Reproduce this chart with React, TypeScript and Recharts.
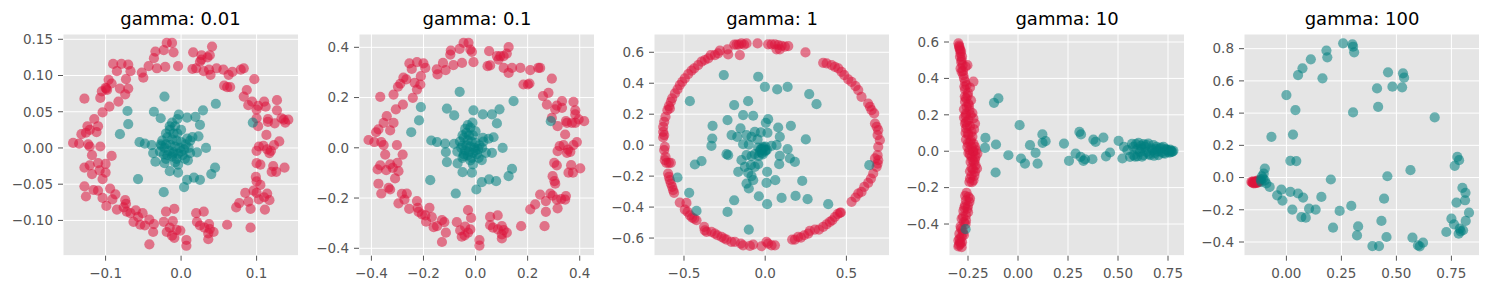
import React from 'react';
import { ScatterChart, Scatter, XAxis, YAxis, CartesianGrid } from 'recharts';

type P = [number, number];

const titles = ['gamma: 0.01', 'gamma: 0.1', 'gamma: 1', 'gamma: 10', 'gamma: 100'];

// ---------- gamma 0.01 ----------
const g001XTicks = [-0.1, 0, 0.1];
const g001XLabels = ['−0.1', '0.0', '0.1'];
const g001YTicks = [-0.1, -0.05, 0, 0.05, 0.1, 0.15];
const g001YLabels = ['−0.10', '−0.05', '0.00', '0.05', '0.10', '0.15'];
const g001Red: P[] = [
  [-0.019, 0.145], [-0.012, 0.145], [-0.023, 0.135], [-0.010, 0.132], [-0.034, 0.133], [-0.036, 0.124],
  [-0.043, 0.113], [-0.032, 0.110], [-0.021, 0.112], [-0.004, 0.113], [-0.052, 0.104], [-0.050, 0.097],
  [-0.067, 0.106], [-0.070, 0.115], [-0.079, 0.116], [-0.085, 0.106], [-0.090, 0.116], [-0.073, 0.095],
  [-0.096, 0.094], [-0.100, 0.083], [-0.098, 0.080], [-0.105, 0.078], [-0.107, 0.069], [-0.092, 0.089],
  [-0.081, 0.082], [-0.070, 0.082], [-0.074, 0.074], [-0.083, 0.064], [-0.095, 0.057], [-0.104, 0.049],
  [-0.128, 0.068], [-0.115, 0.040], [-0.124, 0.030], [-0.110, 0.030], [-0.112, 0.022], [-0.121, 0.025],
  [-0.132, 0.019], [-0.126, 0.021], [-0.143, 0.007], [-0.135, 0.006], [-0.123, 0.005], [-0.121, 0.002],
  [-0.118, -0.010], [-0.107, 0.002], [-0.092, -0.011], [-0.100, -0.022], [-0.110, -0.021], [-0.121, -0.024],
  [-0.128, -0.027], [-0.118, -0.036], [-0.108, -0.031], [-0.100, -0.034], [-0.104, -0.043], [-0.128, -0.053],
  [-0.116, -0.058], [-0.110, -0.059], [-0.126, -0.067], [-0.104, -0.069], [-0.094, -0.056], [-0.087, -0.064],
  [-0.091, -0.071], [-0.099, -0.080], [-0.085, -0.085], [-0.074, -0.072], [-0.073, -0.077], [-0.076, -0.082],
  [-0.072, -0.088], [-0.067, -0.090], [-0.060, -0.086], [-0.057, -0.095], [-0.051, -0.090], [-0.063, -0.102],
  [-0.054, -0.106], [-0.048, -0.107], [-0.042, -0.099], [-0.036, -0.105], [-0.037, -0.116], [-0.042, -0.133],
  [-0.023, -0.102], [-0.020, -0.088], [-0.009, -0.084], [-0.011, -0.101], [-0.015, -0.110], [-0.019, -0.116],
  [-0.012, -0.121], [-0.009, -0.124], [-0.006, -0.113], [-0.001, -0.114], [0.007, -0.127], [0.007, -0.135],
  [0.020, -0.090], [0.030, -0.088], [0.021, -0.102], [0.025, -0.107], [0.031, -0.110], [0.037, -0.105],
  [0.043, -0.116], [0.036, -0.118], [0.036, -0.126], [0.038, -0.112], [0.061, -0.106], [0.073, -0.082],
  [0.077, -0.076], [0.085, -0.062], [0.089, -0.074], [0.092, -0.084], [0.092, -0.110], [0.096, -0.059],
  [0.100, -0.062], [0.103, -0.071], [0.110, -0.068], [0.114, -0.063], [0.117, -0.072], [0.111, -0.085],
  [0.105, -0.051], [0.099, -0.040], [0.100, -0.046], [0.100, -0.021], [0.105, -0.023], [0.100, -0.004],
  [0.103, 0.002], [0.109, 0.003], [0.114, -0.002], [0.119, -0.004], [0.123, 0.004], [0.130, 0.009],
  [0.122, -0.025], [0.120, -0.033], [0.126, -0.033], [0.137, -0.027], [0.117, -0.007], [0.113, 0.018],
  [0.102, 0.030], [0.100, 0.041], [0.115, 0.040], [0.115, 0.036], [0.127, 0.052], [0.127, 0.066],
  [0.133, 0.041], [0.136, 0.039], [0.142, 0.039], [0.138, 0.035], [0.124, 0.034], [0.110, 0.064],
  [0.112, 0.057], [0.102, 0.058], [0.100, 0.053], [0.094, 0.064], [0.089, 0.059], [0.083, 0.071],
  [0.087, 0.080], [0.097, 0.095], [0.083, 0.110], [0.079, 0.108], [0.068, 0.105], [0.063, 0.101],
  [0.056, 0.108], [0.047, 0.110], [0.039, 0.101], [0.037, 0.108], [0.030, 0.106], [0.025, 0.119],
  [0.027, 0.122], [0.035, 0.125], [0.038, 0.128], [0.041, 0.140], [0.027, 0.128], [0.016, 0.132],
  [0.015, 0.109], [0.020, 0.110], [0.061, 0.084], [0.065, 0.084], [0.057, 0.086], [-0.099, 0.082],
];
const g001Teal: P[] = [
  [-0.022, 0.071], [0.046, 0.061], [-0.036, 0.050], [-0.071, 0.051], [-0.070, 0.033], [-0.081, 0.019],
  [-0.027, 0.041], [-0.003, 0.046], [0.008, 0.042], [0.019, 0.043], [0.029, 0.052], [0.025, 0.032],
  [0.095, 0.035], [-0.055, 0.008], [-0.048, 0.006], [-0.039, 0.004], [-0.027, 0.005], [-0.026, 0.003],
  [-0.037, -0.007], [-0.034, -0.019], [-0.022, -0.021], [-0.015, -0.032], [-0.004, -0.034], [-0.004, -0.023],
  [-0.057, -0.043], [-0.023, -0.061], [0.004, -0.054], [0.008, -0.044], [0.017, -0.041], [0.025, -0.044],
  [0.040, -0.036], [0.045, -0.027], [0.033, 0.000], [0.023, 0.016], [0.015, 0.015], [0.008, 0.013],
  [0.012, -0.007], [0.021, -0.006], [0.009, -0.017], [-0.023, -0.009], [-0.011, -0.008],
  [-0.012, 0.035], [-0.008, 0.030], [-0.015, 0.025], [-0.010, 0.020], [-0.005, 0.020], [-0.018, 0.015],
  [-0.012, 0.012], [-0.006, 0.010], [0.000, 0.008], [-0.020, 0.005], [-0.014, 0.004], [-0.008, 0.002],
  [-0.002, 0.000], [0.004, -0.002], [-0.016, -0.004], [-0.010, -0.006], [-0.004, -0.008], [0.002, -0.010],
  [-0.012, -0.012], [-0.006, -0.015], [0.000, -0.005], [-0.018, -0.010], [0.006, 0.005], [-0.020, 0.020],
  [-0.022, 0.000], [-0.015, 0.030], [-0.005, 0.040], [0.000, 0.025], [-0.025, 0.010], [0.010, 0.000],
  [-0.008, -0.020], [0.005, -0.015], [-0.020, -0.015], [0.012, 0.010], [-0.028, -0.005],
];

// ---------- gamma 0.1 ----------
const g01XTicks = [-0.4, -0.2, 0, 0.2, 0.4];
const g01XLabels = ['−0.4', '−0.2', '0.0', '0.2', '0.4'];
const g01YTicks = [-0.4, -0.2, 0, 0.2, 0.4];
const g01YLabels = ['−0.4', '−0.2', '0.0', '0.2', '0.4'];
const g01Red: P[] = [
  [-0.046, 0.418], [-0.027, 0.418], [-0.061, 0.394], [-0.020, 0.391], [-0.014, 0.382], [-0.095, 0.387],
  [-0.097, 0.371], [-0.125, 0.338], [-0.085, 0.329], [-0.052, 0.338], [-0.008, 0.341], [-0.149, 0.312],
  [-0.146, 0.292], [-0.115, 0.309], [-0.193, 0.318], [-0.200, 0.336], [-0.225, 0.341], [-0.245, 0.314],
  [-0.254, 0.336], [-0.210, 0.285], [-0.277, 0.279], [-0.289, 0.255], [-0.298, 0.243], [-0.315, 0.212],
  [-0.266, 0.272], [-0.234, 0.259], [-0.225, 0.232], [-0.212, 0.252], [-0.241, 0.199], [-0.279, 0.172],
  [-0.306, 0.153], [-0.366, 0.203], [-0.341, 0.126], [-0.353, 0.099], [-0.315, 0.099], [-0.328, 0.069],
  [-0.373, 0.073], [-0.382, 0.062], [-0.411, 0.031], [-0.389, 0.023], [-0.362, 0.023], [-0.353, 0.011],
  [-0.347, -0.027], [-0.302, 0.011], [-0.280, -0.027], [-0.300, -0.060], [-0.328, -0.066], [-0.366, -0.070],
  [-0.376, -0.086], [-0.343, -0.089], [-0.318, -0.080], [-0.296, -0.093], [-0.309, -0.122], [-0.373, -0.143],
  [-0.362, -0.182], [-0.334, -0.159], [-0.328, -0.166], [-0.283, -0.183], [-0.264, -0.182], [-0.296, -0.221],
  [-0.273, -0.206], [-0.255, -0.243], [-0.225, -0.212], [-0.222, -0.239], [-0.219, -0.255], [-0.206, -0.265],
  [-0.193, -0.269], [-0.177, -0.239], [-0.168, -0.276], [-0.190, -0.294], [-0.161, -0.316], [-0.148, -0.312],
  [-0.129, -0.288], [-0.120, -0.296], [-0.114, -0.338], [-0.129, -0.375], [-0.072, -0.296], [-0.029, -0.248],
  [-0.017, -0.279], [-0.059, -0.329], [-0.053, -0.354], [-0.042, -0.349], [-0.029, -0.338], [-0.020, -0.325],
  [-0.040, -0.314], [0.015, -0.367], [0.015, -0.389], [0.056, -0.275], [0.085, -0.269], [0.056, -0.308],
  [0.067, -0.318], [0.086, -0.325], [0.101, -0.312], [0.120, -0.338], [0.101, -0.345], [0.101, -0.361],
  [0.108, -0.328], [0.175, -0.312], [0.210, -0.245], [0.229, -0.225], [0.248, -0.186], [0.270, -0.212],
  [0.270, -0.255], [0.265, -0.312], [0.287, -0.182], [0.296, -0.190], [0.312, -0.206], [0.329, -0.204],
  [0.344, -0.206], [0.347, -0.192], [0.315, -0.241], [0.306, -0.143], [0.296, -0.113], [0.303, -0.133],
  [0.302, -0.060], [0.312, -0.070], [0.315, -0.013], [0.323, 0.007], [0.338, 0.011], [0.355, -0.007],
  [0.364, -0.016], [0.376, 0.011], [0.389, 0.023], [0.367, -0.069], [0.357, -0.099], [0.374, -0.099],
  [0.402, -0.082], [0.351, -0.020], [0.344, 0.053], [0.315, 0.086], [0.293, 0.119], [0.347, 0.106],
  [0.351, 0.099], [0.383, 0.149], [0.376, 0.183], [0.383, 0.133], [0.396, 0.113], [0.417, 0.106],
  [0.383, 0.099], [0.370, 0.099], [0.332, 0.186], [0.332, 0.159], [0.312, 0.168], [0.306, 0.153],
  [0.274, 0.172], [0.259, 0.206], [0.280, 0.219], [0.293, 0.275], [0.248, 0.318], [0.241, 0.318],
  [0.210, 0.309], [0.201, 0.252], [0.184, 0.252], [0.207, 0.256], [0.172, 0.318], [0.140, 0.318],
  [0.127, 0.298], [0.108, 0.318], [0.088, 0.351], [0.095, 0.365], [0.108, 0.365], [0.120, 0.375],
  [0.127, 0.401], [0.082, 0.365], [0.052, 0.385], [0.046, 0.325], [0.056, 0.328],
];
const g01Teal: P[] = [
  [-0.061, 0.223], [0.146, 0.186], [-0.110, 0.156], [-0.210, 0.162], [-0.217, 0.109], [-0.247, 0.062],
  [-0.082, 0.129], [-0.008, 0.149], [0.028, 0.133], [0.063, 0.133], [0.092, 0.153], [0.082, 0.097],
  [0.289, 0.106], [-0.170, 0.029], [-0.148, 0.023], [-0.117, 0.017], [-0.082, 0.016], [-0.114, -0.017],
  [-0.110, -0.057], [-0.069, -0.062], [-0.050, -0.097], [-0.014, -0.099], [-0.010, -0.066], [-0.174, -0.129],
  [-0.076, -0.182], [0.003, -0.166], [0.024, -0.137], [0.052, -0.126], [0.079, -0.133], [0.127, -0.113],
  [0.140, -0.084], [0.104, 0.000], [0.069, 0.042], [0.050, 0.036], [0.028, 0.040], [0.040, -0.020],
  [0.063, -0.020], [0.024, -0.049], [-0.046, -0.033],
  [-0.030, 0.090], [-0.020, 0.080], [-0.035, 0.060], [-0.025, 0.050], [-0.010, 0.050], [-0.045, 0.040],
  [-0.030, 0.030], [-0.015, 0.025], [0.000, 0.020], [-0.050, 0.010], [-0.035, 0.010], [-0.020, 0.005],
  [-0.005, 0.000], [0.010, -0.005], [-0.040, -0.010], [-0.025, -0.015], [-0.010, -0.020], [0.005, -0.025],
  [-0.030, -0.030], [-0.015, -0.040], [0.000, -0.010], [-0.045, -0.025], [0.015, 0.010], [-0.050, 0.050],
  [-0.055, 0.000], [-0.040, 0.075], [-0.012, 0.100], [0.000, 0.065], [-0.060, 0.025], [0.025, 0.000],
  [-0.020, -0.050], [0.012, -0.040], [-0.050, -0.040], [0.030, 0.025], [-0.070, -0.015],
];

// ---------- gamma 1 ----------
const g1XTicks = [-0.5, 0, 0.5];
const g1XLabels = ['−0.5', '0.0', '0.5'];
const g1YTicks = [-0.6, -0.4, -0.2, 0, 0.2, 0.4, 0.6];
const g1YLabels = ['−0.6', '−0.4', '−0.2', '0.0', '0.2', '0.4', '0.6'];
const g1Red: P[] = [
  [-0.190, 0.650], [-0.176, 0.650], [-0.162, 0.650], [-0.146, 0.657], [-0.130, 0.650], [-0.115, 0.657],
  [-0.156, 0.582], [-0.228, 0.586], [-0.232, 0.619], [-0.279, 0.610], [-0.290, 0.593], [-0.310, 0.582],
  [-0.335, 0.582], [-0.351, 0.560], [-0.372, 0.550], [-0.392, 0.539], [-0.413, 0.517], [-0.437, 0.496],
  [-0.454, 0.481], [-0.474, 0.459], [-0.495, 0.431], [-0.511, 0.409], [-0.526, 0.388], [-0.540, 0.360],
  [-0.556, 0.334], [-0.573, 0.302], [-0.581, 0.280], [-0.593, 0.252], [-0.602, 0.226], [-0.587, 0.237],
  [-0.614, 0.183], [-0.622, 0.151], [-0.628, 0.119], [-0.628, 0.086], [-0.622, 0.065], [-0.628, 0.050],
  [-0.618, -0.011], [-0.622, -0.032], [-0.614, -0.075], [-0.618, -0.097], [-0.608, -0.114], [-0.593, -0.114],
  [-0.581, -0.114], [-0.598, -0.183], [-0.593, -0.205], [-0.587, -0.226], [-0.581, -0.248], [-0.573, -0.269],
  [-0.567, -0.291], [-0.561, -0.308], [-0.526, -0.371], [-0.485, -0.373], [-0.495, -0.416], [-0.478, -0.431],
  [-0.464, -0.453], [-0.450, -0.468], [-0.437, -0.474], [-0.423, -0.485], [-0.376, -0.528], [-0.372, -0.550],
  [-0.361, -0.560], [-0.331, -0.560], [-0.310, -0.571], [-0.294, -0.582], [-0.269, -0.593], [-0.253, -0.603],
  [-0.238, -0.610], [-0.208, -0.625], [-0.187, -0.625], [-0.150, -0.636], [-0.136, -0.647], [-0.094, -0.651],
  [-0.074, -0.642], [-0.023, -0.653], [0.008, -0.625], [0.018, -0.636], [0.039, -0.647], [0.060, -0.647],
  [0.166, -0.610], [0.183, -0.610], [0.203, -0.593], [0.220, -0.597], [0.240, -0.582], [0.265, -0.571],
  [0.275, -0.554], [0.306, -0.545], [0.331, -0.545], [0.357, -0.528], [0.378, -0.511], [0.398, -0.496],
  [0.413, -0.485], [0.429, -0.464], [0.446, -0.446], [0.460, -0.438], [0.466, -0.435], [0.532, -0.366],
  [0.556, -0.338], [0.573, -0.313], [0.593, -0.302], [0.610, -0.269], [0.634, -0.244], [0.651, -0.216],
  [0.665, -0.183], [0.686, -0.140], [0.692, -0.119], [0.696, -0.097], [0.676, -0.086], [0.692, -0.065],
  [0.696, -0.011], [0.706, 0.032], [0.692, 0.065], [0.696, 0.097], [0.686, 0.119], [0.676, 0.140],
  [0.671, 0.205], [0.655, 0.226], [0.645, 0.248], [0.634, 0.269], [0.593, 0.312], [0.573, 0.356],
  [0.556, 0.381], [0.532, 0.409], [0.511, 0.425], [0.487, 0.453], [0.470, 0.474], [0.450, 0.496],
  [0.429, 0.506], [0.409, 0.517], [0.378, 0.528], [0.357, 0.532], [0.248, 0.599], [0.018, 0.651],
  [0.039, 0.651], [0.060, 0.651], [0.080, 0.647], [0.101, 0.642], [0.121, 0.636], [0.142, 0.640],
  [0.070, 0.619], [0.090, 0.619], [-0.047, 0.657],
];
const g1Teal: P[] = [
  [-0.255, 0.453], [-0.043, 0.442], [-0.002, 0.377], [0.074, 0.360], [0.138, 0.377], [0.271, 0.330],
  [0.316, 0.265], [-0.464, 0.284], [-0.105, 0.284], [-0.191, 0.259], [-0.136, 0.194], [-0.074, 0.190],
  [-0.232, 0.162], [0.018, 0.168], [0.004, 0.144], [0.080, 0.114], [0.158, 0.125], [-0.324, 0.125],
  [-0.152, 0.108], [-0.207, 0.065], [-0.172, 0.054], [-0.115, 0.065], [-0.064, 0.086], [-0.027, 0.082],
  [0.014, 0.080], [0.090, 0.054], [0.250, 0.037], [-0.326, 0.043], [-0.331, -0.004], [-0.084, 0.054],
  [-0.047, 0.037], [-0.136, 0.006], [-0.101, 0.004], [0.039, -0.004], [0.070, 0.000], [0.138, -0.026],
  [-0.043, -0.015], [-0.023, -0.022], [-0.012, -0.011], [0.002, -0.032], [-0.033, -0.043], [-0.064, -0.058],
  [-0.084, -0.071], [-0.115, -0.065], [-0.238, -0.058], [-0.228, -0.065], [0.090, -0.069], [0.152, -0.086],
  [0.183, -0.108], [0.086, -0.123], [-0.146, -0.097], [-0.125, -0.140], [-0.088, -0.129], [-0.064, -0.140],
  [-0.043, -0.123], [-0.392, -0.103], [-0.433, -0.125], [-0.166, -0.172], [-0.105, -0.179], [-0.084, -0.200],
  [-0.074, -0.226], [-0.115, -0.248], [-0.101, -0.280], [0.012, -0.172], [0.008, -0.244], [0.062, -0.226],
  [0.228, -0.231], [-0.540, -0.209], [-0.468, -0.308], [-0.039, -0.330], [0.101, -0.341], [0.187, -0.328],
  [0.261, -0.349], [0.388, -0.381], [-0.191, -0.356], [0.012, -0.381], [-0.423, -0.425], [-0.232, -0.431],
  [-0.101, -0.545], [0.641, -0.129], [-0.010, -0.020], [0.000, -0.040], [-0.020, -0.050], [0.010, -0.030],
  [-0.030, -0.030], [0.000, -0.010], [-0.015, -0.060], [-0.040, -0.070],
];

// ---------- gamma 10 ----------
const g10XTicks = [-0.25, 0, 0.25, 0.5, 0.75];
const g10XLabels = ['−0.25', '0.00', '0.25', '0.50', '0.75'];
const g10YTicks = [-0.4, -0.2, 0, 0.2, 0.4, 0.6];
const g10YLabels = ['−0.4', '−0.2', '0.0', '0.2', '0.4', '0.6'];
const g10Red: P[] = [
  [-0.298, 0.593], [-0.293, 0.574], [-0.290, 0.556], [-0.287, 0.538], [-0.290, 0.519], [-0.282, 0.501],
  [-0.277, 0.473], [-0.253, 0.473], [-0.287, 0.455], [-0.282, 0.437], [-0.273, 0.418], [-0.270, 0.400],
  [-0.265, 0.382], [-0.223, 0.382], [-0.257, 0.363], [-0.240, 0.350], [-0.265, 0.339], [-0.260, 0.290],
  [-0.265, 0.272], [-0.248, 0.262], [-0.257, 0.244], [-0.243, 0.226], [-0.260, 0.207], [-0.237, 0.198],
  [-0.270, 0.185], [-0.223, 0.180], [-0.248, 0.171], [-0.265, 0.152], [-0.215, 0.152], [-0.240, 0.138],
  [-0.260, 0.125], [-0.232, 0.106], [-0.248, 0.088], [-0.260, 0.064], [-0.240, 0.051], [-0.253, 0.024],
  [-0.232, 0.024], [-0.215, 0.024], [-0.243, 0.006], [-0.223, -0.004], [-0.203, -0.013], [-0.232, -0.031],
  [-0.215, -0.046], [-0.237, -0.059], [-0.212, -0.077], [-0.232, -0.092], [-0.215, -0.114], [-0.232, -0.132],
  [-0.223, -0.160], [-0.243, -0.169], [-0.257, -0.229], [-0.248, -0.251], [-0.260, -0.270], [-0.243, -0.279],
  [-0.265, -0.297], [-0.253, -0.316], [-0.273, -0.328], [-0.260, -0.352], [-0.282, -0.371], [-0.270, -0.389],
  [-0.287, -0.413], [-0.277, -0.435], [-0.293, -0.453], [-0.282, -0.472], [-0.298, -0.490], [-0.287, -0.508],
  [-0.298, -0.523], [-0.282, -0.527], [-0.295, 0.580], [-0.285, 0.550], [-0.280, 0.520], [-0.275, 0.440],
  [-0.250, 0.320], [-0.235, 0.280], [-0.270, 0.230], [-0.260, 0.160], [-0.250, 0.100], [-0.235, 0.060],
  [-0.225, 0.000], [-0.240, -0.020], [-0.220, -0.060], [-0.225, -0.100], [-0.240, -0.150], [-0.250, -0.300],
  [-0.260, -0.380], [-0.275, -0.450], [-0.290, -0.500],
  [-0.292, 0.565], [-0.284, 0.490], [-0.262, 0.465], [-0.268, 0.355], [-0.252, 0.305], [-0.266, 0.300],
  [-0.245, 0.250], [-0.262, 0.195], [-0.228, 0.210], [-0.255, 0.140], [-0.220, 0.120], [-0.262, 0.100],
  [-0.228, 0.080], [-0.250, 0.045], [-0.222, 0.040], [-0.210, 0.005], [-0.248, -0.010], [-0.212, -0.030],
  [-0.228, -0.050], [-0.205, -0.095], [-0.240, -0.110], [-0.218, -0.135], [-0.230, -0.170], [-0.264, -0.245],
  [-0.240, -0.260], [-0.268, -0.310], [-0.250, -0.335], [-0.275, -0.360], [-0.262, -0.400], [-0.285, -0.425],
  [-0.270, -0.460], [-0.292, -0.480], [-0.280, -0.500], [-0.295, -0.515],
];
const g10Teal: P[] = [
  [-0.120, 0.266], [-0.098, 0.290], [0.008, 0.143], [-0.163, 0.073], [-0.165, 0.018], [-0.110, 0.037],
  [-0.112, -0.117], [-0.048, -0.022], [0.015, -0.040], [0.035, -0.068], [0.060, 0.033], [0.088, -0.009],
  [0.098, -0.068], [0.122, 0.092], [0.123, 0.046], [0.138, 0.055], [0.230, 0.042], [0.255, -0.053],
  [0.288, -0.013], [0.307, 0.106], [0.315, 0.092], [0.313, -0.031], [0.327, -0.053], [0.335, -0.044],
  [0.372, -0.044], [0.377, 0.064], [0.388, 0.051], [0.427, 0.075], [0.440, -0.028], [0.460, -0.007],
  [0.503, 0.057], [0.522, -0.040], [0.530, 0.024], [0.560, -0.031], [0.577, 0.024], [0.590, 0.039],
  [0.597, -0.028], [0.602, 0.046], [0.610, -0.004], [0.618, 0.015], [0.627, -0.022], [0.635, 0.024],
  [0.643, -0.004], [0.652, 0.042], [0.660, -0.022], [0.668, 0.015], [0.677, 0.033], [0.685, -0.009],
  [0.693, 0.024], [0.702, -0.022], [0.710, 0.015], [0.718, -0.004], [0.727, 0.024], [0.735, -0.013],
  [0.743, 0.009], [0.752, -0.004], [0.760, 0.009], [0.768, -0.004], [0.777, 0.002], [0.627, 0.039],
  [0.577, -0.022], [0.547, 0.006], [-0.262, -0.428],
  [0.585, -0.030], [0.595, 0.010], [0.615, 0.030], [0.640, 0.035], [0.655, -0.015], [0.672, 0.005],
  [0.690, 0.012], [0.700, 0.000], [0.715, 0.020], [0.725, -0.010], [0.738, 0.012], [0.748, 0.006],
  [0.758, -0.008], [0.765, 0.004], [0.772, -0.002], [0.620, -0.030], [0.570, 0.040], [0.680, -0.025],
];

// ---------- gamma 100 ----------
const g100XTicks = [0, 0.25, 0.5, 0.75];
const g100XLabels = ['0.00', '0.25', '0.50', '0.75'];
const g100YTicks = [-0.4, -0.2, 0, 0.2, 0.4, 0.6, 0.8];
const g100YLabels = ['−0.4', '−0.2', '0.0', '0.2', '0.4', '0.6', '0.8'];
const g100Red: P[] = [
  [-0.159, -0.027], [-0.152, -0.033], [-0.144, -0.027], [-0.136, -0.023], [-0.129, -0.017], [-0.148, -0.037],
  [-0.142, -0.029], [-0.133, -0.033], [-0.121, -0.021], [-0.155, -0.030], [-0.140, -0.035], [-0.126, -0.028],
  [-0.150, -0.024], [-0.138, -0.030], [-0.131, -0.025],
];
const g100Teal: P[] = [
  [0.258, 0.833], [0.300, 0.827], [0.303, 0.812], [0.308, 0.777], [0.182, 0.788], [0.186, 0.746],
  [0.111, 0.734], [0.073, 0.678], [0.053, 0.636], [0.164, 0.616], [0.000, 0.512], [0.462, 0.653],
  [0.530, 0.647], [0.535, 0.620], [0.526, 0.560], [0.482, 0.564], [0.412, 0.553], [0.417, 0.439],
  [0.303, 0.404], [0.041, 0.419], [0.674, 0.373], [-0.068, 0.253], [0.030, 0.267], [0.018, 0.104],
  [0.045, 0.102], [-0.098, 0.056], [-0.103, 0.025], [-0.106, -0.006], [-0.098, -0.017], [-0.114, -0.027],
  [-0.091, -0.037], [-0.076, -0.058], [-0.111, 0.008], [-0.117, -0.012], [-0.023, -0.075], [-0.042, -0.110],
  [-0.018, -0.143], [0.018, -0.089], [0.053, -0.099], [0.076, -0.124], [0.027, -0.199], [0.068, -0.245],
  [0.088, -0.249], [0.103, -0.193], [0.133, -0.199], [0.159, -0.120], [0.202, -0.012], [0.212, -0.311],
  [0.242, -0.207], [0.295, -0.176], [0.326, -0.303], [0.321, -0.359], [0.444, -0.131], [0.459, 0.008],
  [0.432, -0.269], [0.455, -0.369], [0.391, -0.425], [0.421, -0.425], [0.564, 0.046], [0.573, -0.373],
  [0.598, -0.421], [0.606, -0.427], [0.621, -0.404], [0.727, -0.338], [0.750, -0.255], [0.762, -0.290],
  [0.777, 0.128], [0.785, 0.108], [0.765, 0.073], [0.800, -0.064], [0.814, -0.095], [0.812, -0.141],
  [0.773, -0.155], [0.830, -0.218], [0.815, -0.269], [0.788, -0.317], [0.803, -0.327], [0.783, -0.348],
  [0.792, -0.334],
];

const RED = '#DC143C';
const TEAL = '#008080';
const YW = 60;
const PW = 235.5;

type PanelProps = {
  left: number;
  xDomain: [number, number];
  yDomain: [number, number];
  xTicks: number[];
  xLabels: string[];
  yTicks: number[];
  yLabels: string[];
  red: P[];
  teal: P[];
};

const fmt = (ticks: number[], labels: string[]) => (v: number) => {
  const i = ticks.findIndex((t) => Math.abs(t - v) < 1e-9);
  return i >= 0 ? labels[i] : String(v);
};

const dot = (color: string) => (props: any) => (
  <circle cx={props.cx} cy={props.cy} r={5.1} fill={color} fillOpacity={0.55} stroke="none" />
);

const toXY = (arr: P[]) => arr.map(([x, y]) => ({ x, y }));

const tickStyle = { fontSize: 13.5, fill: '#555555', fontFamily: 'DejaVu Sans' };

function Panel(p: PanelProps) {
  return (
    <div style={{ position: 'absolute', left: p.left - YW, top: 0 }}>
      <ScatterChart width={YW + PW} height={290} margin={{ top: 34, right: 0, bottom: 0, left: 0 }}>
        <CartesianGrid fill="#E5E5E5" fillOpacity={1} stroke="#FFFFFF" strokeWidth={1} />
        <XAxis
          type="number"
          dataKey="x"
          domain={p.xDomain}
          ticks={p.xTicks}
          allowDataOverflow
          interval={0}
          height={34.3}
          axisLine={false}
          tickLine={{ stroke: '#555555' }}
          tickSize={5}
          tickMargin={7.3}
          tick={tickStyle}
          tickFormatter={fmt(p.xTicks, p.xLabels)}
        />
        <YAxis
          type="number"
          dataKey="y"
          domain={p.yDomain}
          ticks={p.yTicks}
          allowDataOverflow
          interval={0}
          width={YW}
          axisLine={false}
          tickLine={{ stroke: '#555555' }}
          tickSize={5}
          tickMargin={5}
          tick={tickStyle}
          tickFormatter={fmt(p.yTicks, p.yLabels)}
        />
        <Scatter data={toXY(p.red)} shape={dot(RED)} isAnimationActive={false} />
        <Scatter data={toXY(p.teal)} shape={dot(TEAL)} isAnimationActive={false} />
      </ScatterChart>
    </div>
  );
}

const panels: PanelProps[] = [
  { left: 62.7, xDomain: [-0.1564, 0.1555], yDomain: [-0.1487, 0.1573], xTicks: g001XTicks, xLabels: g001XLabels, yTicks: g001YTicks, yLabels: g001YLabels, red: g001Red, teal: g001Teal },
  { left: 359.3, xDomain: [-0.4476, 0.4568], yDomain: [-0.4295, 0.453], xTicks: g01XTicks, xLabels: g01XLabels, yTicks: g01YTicks, yLabels: g01YLabels, red: g01Red, teal: g01Teal },
  { left: 654.3, xDomain: [-0.6847, 0.7654], yDomain: [-0.714, 0.718], xTicks: g1XTicks, xLabels: g1XLabels, yTicks: g1YTicks, yLabels: g1YLabels, red: g1Red, teal: g1Teal },
  { left: 949.3, xDomain: [-0.345, 0.8325], yDomain: [-0.574, 0.644], xTicks: g10XTicks, xLabels: g10XLabels, yTicks: g10YTicks, yLabels: g10YLabels, red: g10Red, teal: g10Teal },
  { left: 1244.3, xDomain: [-0.1927, 0.8777], yDomain: [-0.485, 0.891], xTicks: g100XTicks, xLabels: g100XLabels, yTicks: g100YTicks, yLabels: g100YLabels, red: g100Red, teal: g100Teal },
];

export default function App() {
  return (
    <div style={{ position: 'absolute', left: 0, top: 0, width: 1489, height: 290, background: '#FFFFFF', overflow: 'hidden' }}>
      {panels.map((p, i) => (
        <Panel key={i} {...p} />
      ))}
      <svg width={1489} height={40} style={{ position: 'absolute', left: 0, top: 0, pointerEvents: 'none' }}>
        {panels.map((p, i) => (
          <text key={i} x={p.left + PW / 2} y={25} textAnchor="middle" fontFamily="DejaVu Sans" fontSize={18} fill="#000000">
            {titles[i]}
          </text>
        ))}
      </svg>
    </div>
  );
}
